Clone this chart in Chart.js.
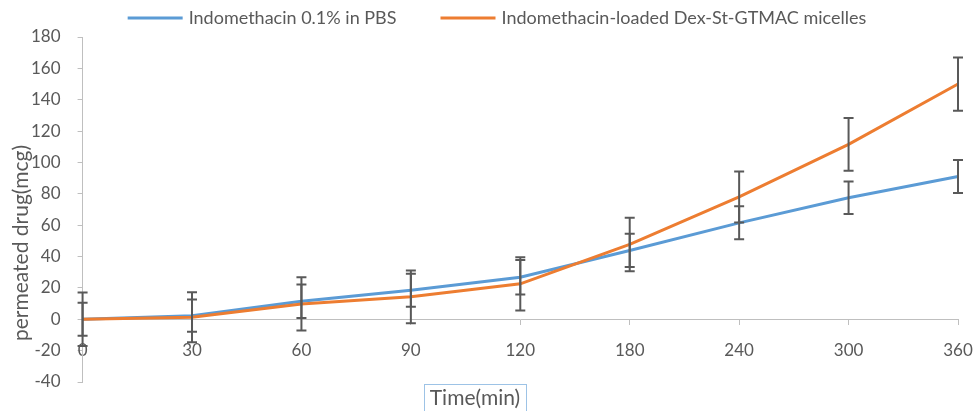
<!DOCTYPE html>
<html>
<head>
<meta charset="utf-8">
<script src="https://cdn.jsdelivr.net/npm/chart.js@4.4.1/dist/chart.umd.min.js"></script>
<style>
  html, body { margin: 0; padding: 0; background: #ffffff; }
  #wrap { width: 974px; height: 411px; position: relative; }
</style>
</head>
<body>
<div id="wrap"><canvas id="c" width="974" height="411"></canvas></div>
<script>
// ---- data ----
const categories = ["0", "30", "60", "90", "120", "180", "240", "300", "360"];
const pbsValues = [0, 2.3, 11.5, 18.5, 26.8, 43.9, 61.5, 77.5, 91];
const pbsErrors = [10.5, 10.3, 10.7, 10.5, 11, 10.6, 10.5, 10.3, 10.5];
const micelleValues = [0, 1.3, 9.8, 14.3, 22.6, 47.7, 78, 111.5, 150];
const micelleErrors = [17, 16, 17, 16.8, 17, 17, 16.3, 16.8, 17];
const seriesNames = ["Indomethacin 0.1% in PBS", "Indomethacin-loaded Dex-St-GTMAC micelles"];
const yTitle = "permeated drug(mcg)";
const xTitle = "Time(min)";

const FONT = "Lato, 'Open Sans', sans-serif";
const TXT = "#595959";

const errorBarsPlugin = {
  id: 'errorBars',
  afterDatasetsDraw(chart) {
    const ctx = chart.ctx;
    const ys = chart.scales.y, xs = chart.scales.x;
    const errs = [pbsErrors, micelleErrors];
    const vals = [pbsValues, micelleValues];
    ctx.save();
    ctx.strokeStyle = "#595959";
    ctx.lineWidth = 2;
    for (let d = 0; d < 2; d++) {
      for (let i = 0; i < categories.length; i++) {
        const x = xs.getPixelForValue(i);
        const yTop = ys.getPixelForValue(vals[d][i] + errs[d][i]);
        const yBot = ys.getPixelForValue(vals[d][i] - errs[d][i]);
        ctx.beginPath();
        ctx.moveTo(x, yTop); ctx.lineTo(x, yBot);
        ctx.moveTo(x - 5, yTop); ctx.lineTo(x + 5, yTop);
        ctx.moveTo(x - 5, yBot); ctx.lineTo(x + 5, yBot);
        ctx.stroke();
      }
    }
    ctx.restore();
  }
};

const legendTitlesPlugin = {
  id: 'legendTitles',
  afterDraw(chart) {
    const ctx = chart.ctx;
    const colors = chart.data.datasets.map(d => d.borderColor);
    const names = chart.data.datasets.map(d => d.label);
    // legend
    ctx.save();
    ctx.font = "18px " + FONT;
    ctx.fillStyle = TXT;
    ctx.textBaseline = "middle";
    ctx.textAlign = "left";
    const lineW = 55, gapT = 6, gapItem = 44;
    const w0 = ctx.measureText(names[0]).width, w1 = ctx.measureText(names[1]).width;
    const total = lineW + gapT + w0 + gapItem + lineW + gapT + w1;
    let x = 497 - total / 2;
    const ly = 18;
    for (let k = 0; k < 2; k++) {
      ctx.strokeStyle = colors[k];
      ctx.lineWidth = 3;
      ctx.beginPath(); ctx.moveTo(x, ly); ctx.lineTo(x + lineW, ly); ctx.stroke();
      x += lineW + gapT;
      ctx.fillText(names[k], x, ly);
      x += (k === 0 ? w0 : w1) + gapItem;
    }
    ctx.restore();
    // y title
    ctx.save();
    ctx.font = "21px " + FONT;
    ctx.fillStyle = TXT;
    ctx.textAlign = "center";
    ctx.textBaseline = "middle";
    ctx.translate(21, 243);
    ctx.rotate(-Math.PI / 2);
    ctx.fillText(yTitle, 0, 0);
    ctx.restore();
    // x title in a box
    ctx.save();
    ctx.font = "21px " + FONT;
    ctx.fillStyle = TXT;
    ctx.textAlign = "center";
    ctx.textBaseline = "middle";
    const cx = 475, cy = 398;
    const w = ctx.measureText(xTitle).width + 12;
    ctx.strokeStyle = "#9DC3E6";
    ctx.lineWidth = 1;
    ctx.strokeRect(Math.round(cx - w / 2) + 0.5, 384.5, Math.round(w), 30);
    ctx.fillText(xTitle, cx, cy);
    ctx.restore();
  }
};

new Chart(document.getElementById('c'), {
  type: 'line',
  data: {
    labels: categories,
    datasets: [
      { label: seriesNames[0], data: pbsValues, borderColor: "#5B9BD5", backgroundColor: "#5B9BD5",
        borderWidth: 3, pointRadius: 0, tension: 0, order: 1 },
      { label: seriesNames[1], data: micelleValues, borderColor: "#ED7D31", backgroundColor: "#ED7D31",
        borderWidth: 3, pointRadius: 0, tension: 0, order: 0 }
    ]
  },
  options: {
    responsive: false,
    animation: false,
    layout: { padding: { left: 14, right: 16, top: 37, bottom: 29 } },
    plugins: {
      tooltip: { enabled: false },
      legend: { display: false }
    },
    scales: {
      x: {
        type: 'category',
        offset: false,
        position: { y: 0 },
        afterFit: (s) => { s.paddingLeft = 0; s.paddingRight = 0; },
        grid: { display: true, drawOnChartArea: false, drawTicks: true, tickLength: 5, color: "#BFBFBF" },
        border: { display: true, color: "#BFBFBF", width: 1 },
        ticks: { color: TXT, font: { family: FONT, size: 17 }, padding: 16, maxRotation: 0, autoSkip: false }
      },
      y: {
        min: -40, max: 180,
        grid: { display: true, drawOnChartArea: false, drawTicks: true, tickLength: 5, color: "#BFBFBF" },
        border: { display: true, color: "#BFBFBF", width: 1 },
        ticks: { stepSize: 20, color: TXT, font: { family: FONT, size: 17 }, padding: 17 }
      }
    }
  },
  plugins: [errorBarsPlugin, legendTitlesPlugin]
});
</script>
</body>
</html>
